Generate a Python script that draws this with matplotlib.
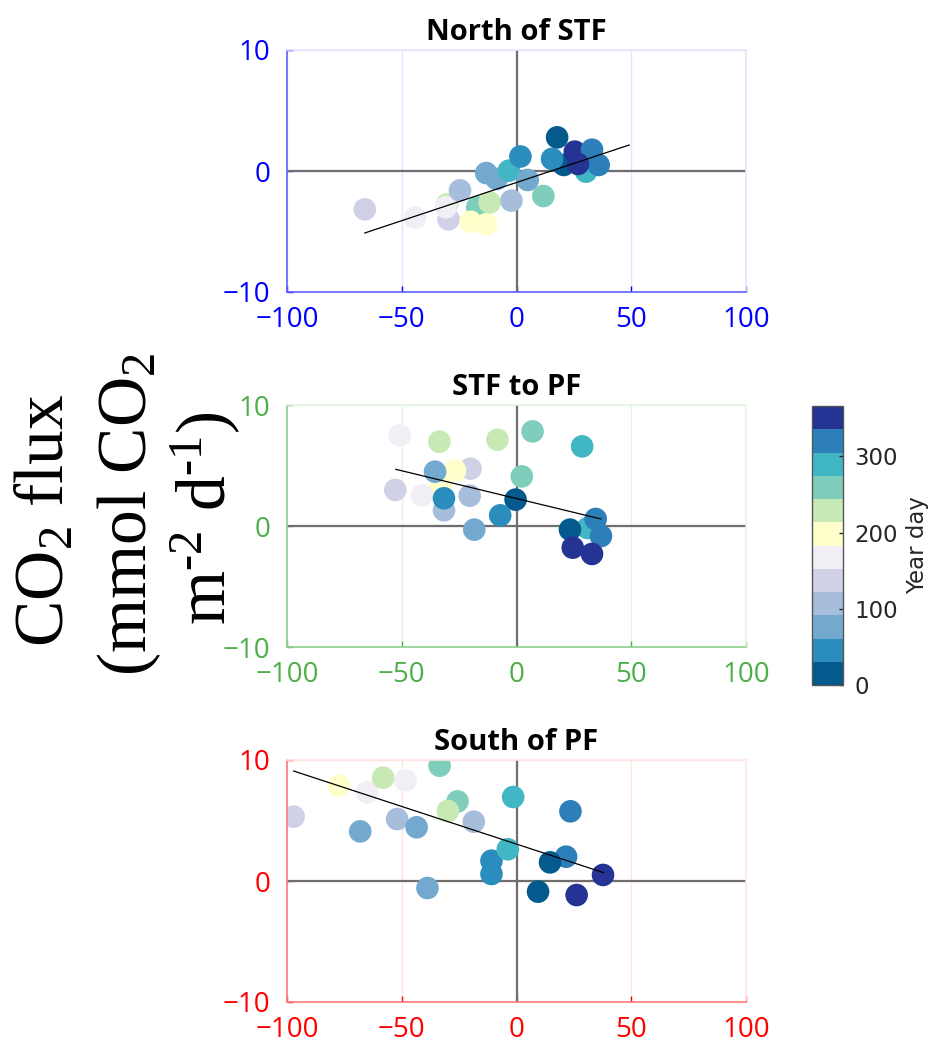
import matplotlib
matplotlib.use('Agg')
import matplotlib.pyplot as plt
from matplotlib.colors import ListedColormap, Normalize
from matplotlib.cm import ScalarMappable
import numpy as np

# ---------------- data ----------------
# colour classes (year-day bins, bottom to top of colour bar)
cbar_colors = ['#045a8d', '#2b8cbe', '#74a9cf', '#a6bddb', '#d0d1e6', '#f1eef6',
               '#ffffcc', '#c7e9b4', '#7fcdbb', '#41b6c4', '#2c7fb8', '#253494']
cbar_ticks = [0, 100, 200, 300]
day_max = 366

north_x = [-66.1, -44.2, -29.6, -30.2, -30.8, -24.6, -17.1, -20.0, -13.2, -11.7,
           -13.2, -8.7, -3.3, -2.2, 1.7, 4.9, 11.7, 17.7, 20.6, 30.3,
           15.5, 25.4, 32.9, 35.8, 26.8]
north_y = [-3.17, -3.86, -4.0, -2.75, -3.0, -1.6, -3.0, -4.2, -4.4, -2.6,
           -0.17, -0.66, 0.03, -2.45, 1.2, -0.74, -2.07, 2.78, 0.5, -0.05,
           1.0, 1.6, 1.76, 0.5, 0.58]
north_day = [137, 168, 137, 229, 168, 107, 259, 198, 198, 229,
             76, 76, 290, 107, 46, 76, 259, 15, 15, 290,
             46, 351, 320, 320, 351]
north_fit_x = [-66.1, 49.1]
north_fit_coef = [0.0631, -0.95]   # slope, intercept

mid_x = [-50.9, -33.6, -8.3, 7.0, 28.6, -20.0, -33.0, -26.8, -35.5, 2.3,
         -52.8, -41.2, -31.6, -31.6, -20.4, -0.4, -7.1, -18.4, 31.0, 23.3,
         34.5, 36.8, 24.5, 32.9]
mid_y = [7.49, 6.97, 7.13, 7.82, 6.58, 4.74, 3.3, 4.6, 4.49, 4.1,
         2.98, 2.53, 1.3, 2.29, 2.5, 2.18, 0.88, -0.3, -0.17, -0.3,
         0.58, -0.83, -1.79, -2.31]
mid_day = [168, 229, 229, 259, 290, 137, 198, 198, 76, 259,
           137, 168, 107, 46, 107, 15, 46, 76, 290, 15,
           320, 320, 351, 351]
mid_fit_x = [-52.6, 36.8]
mid_fit_coef = [-0.0459, 2.27]

south_x = [-97.1, -65.1, -77.5, -58.1, -48.4, -33.5, -25.7, -29.9, -18.6, -68.1,
           -52.0, -43.5, -38.8, -1.45, 23.5, -10.9, -10.9, -3.8, 21.6, 14.6,
           9.4, 26.2, 37.7]
south_y = [5.32, 7.33, 7.9, 8.54, 8.32, 9.53, 6.58, 5.79, 4.9, 4.1,
           5.12, 4.44, -0.58, 6.94, 5.76, 1.68, 0.58, 2.62, 2.01, 1.54,
           -0.88, -1.16, 0.5]
south_day = [137, 168, 198, 229, 168, 259, 259, 229, 107, 76,
             107, 76, 76, 290, 320, 46, 46, 290, 320, 15,
             15, 351, 351]
south_fit_x = [-97.1, 38.0]
south_fit_coef = [-0.0622, 3.05]

titles = ['North of STF', 'STF to PF', 'South of PF']
axis_colors = ['#0000ff', '#4daf4a', '#ff0000']
spine_colors = ['#6060ff', '#8fd08c', '#ff7a7a']
light_colors = ['#e4e4ff', '#e4f4e3', '#ffe4e4']
xticks = [-100, -50, 0, 50, 100]
yticks = [-10, 0, 10]

# ---------------- figure ----------------
plt.rcParams['font.family'] = ['Open Sans', 'DejaVu Sans']
plt.rcParams['mathtext.fontset'] = 'custom'
plt.rcParams['mathtext.rm'] = 'Liberation Serif'
plt.rcParams['mathtext.it'] = 'Liberation Serif:italic'
plt.rcParams['axes.unicode_minus'] = True

W, H = 933, 1043
fig = plt.figure(figsize=(W / 100, H / 100), dpi=100)

cmap = ListedColormap(cbar_colors)
norm = Normalize(vmin=0, vmax=day_max)

panels = [
    (north_x, north_y, north_day, north_fit_x, north_fit_coef, 292),
    (mid_x, mid_y, mid_day, mid_fit_x, mid_fit_coef, 647),
    (south_x, south_y, south_day, south_fit_x, south_fit_coef, 1002),
]

left_px, right_px, h_px = 287, 746, 242
for i, (xs, ys, ds, fx, fc, bottom_px) in enumerate(panels):
    ax = fig.add_axes([left_px / W, 1 - bottom_px / H, (right_px - left_px) / W, h_px / H])
    ax.set_xlim(-100, 100)
    ax.set_ylim(-10, 10)
    ax.set_xticks(xticks)
    ax.set_yticks(yticks)
    ax.tick_params(direction='in', colors=axis_colors[i], labelsize=20,
                   length=4, width=1)
    ax.tick_params(axis='x', pad=10)
    ax.tick_params(axis='y', pad=12)
    ax.grid(True, color=light_colors[i], lw=1)
    ax.set_axisbelow(True)
    for s in ['left', 'bottom']:
        ax.spines[s].set_color(spine_colors[i])
        ax.spines[s].set_linewidth(1.2)
    for s in ['top', 'right']:
        ax.spines[s].set_color(light_colors[i])
        ax.spines[s].set_linewidth(1.2)
    ax.axhline(0, color='#6e6e6e', lw=1.6, zorder=1)
    ax.axvline(0, color='#6e6e6e', lw=1.6, zorder=1)
    ax.scatter(xs, ys, c=ds, cmap=cmap, norm=norm, s=265, edgecolors='none',
               zorder=2)
    fxa = np.array(fx)
    ax.plot(fxa, fc[0] * fxa + fc[1], color='black', lw=0.9, zorder=3)
    ax.set_title(titles[i], fontsize=21, fontweight='bold', pad=7,
                 family='Open Sans')

# y label (serif, large, three lines)
ylab_lines = [r'CO$_2$ flux', r'(mmol CO$_2$', r'm$^{\text{-}2}$ d$^{\text{-}1}$)']
ylab_x = [63, 146, 226]
ylab_y = [520, 514, 518]
for txt, xp, yp in zip(ylab_lines, ylab_x, ylab_y):
    fig.text(xp / W, 1 - yp / H, txt, rotation=90, rotation_mode='anchor',
             ha='center', va='baseline', fontsize=50, family='Liberation Serif')

# colour bar
cax = fig.add_axes([812 / W, 1 - 685 / H, 31 / W, 279 / H])
cb = fig.colorbar(ScalarMappable(norm=norm, cmap=cmap), cax=cax, ticks=cbar_ticks)
cb.outline.set_edgecolor('#555555')
cb.outline.set_linewidth(1)
cax.tick_params(direction='in', length=3, width=1, colors='#262626',
                labelsize=16.5, pad=8)
for lbl in cax.get_yticklabels():
    lbl.set_fontfamily('DejaVu Sans')
cb.set_label('Year day', fontsize=16.5, family='DejaVu Sans', color='#262626',
             labelpad=6)

fig.savefig('out.png', dpi=100)
